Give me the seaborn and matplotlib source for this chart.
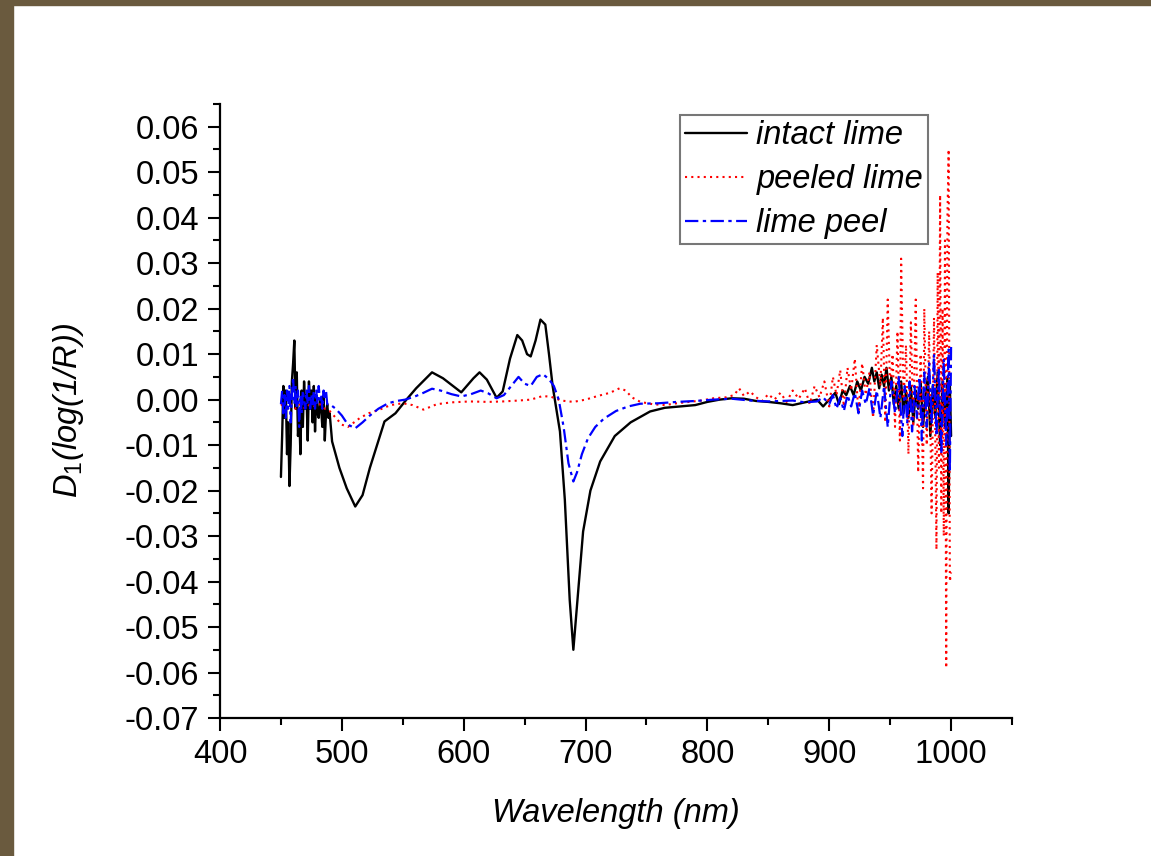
import pandas as pd
import matplotlib.pyplot as plt
import matplotlib.patches as mpatches
from matplotlib.ticker import MultipleLocator, FormatStrFormatter
import seaborn as sns

# intact lime (black, solid)
wl_intact = [450, 451, 452, 453, 454, 455, 456, 457, 458, 459, 460, 461, 462, 463, 464, 465,
             466, 467, 468, 469, 470, 471, 472, 473, 474, 475, 476, 477, 478, 479, 480, 481,
             482, 483, 484, 485, 486, 487, 488, 489, 490, 492, 498, 504, 511, 517, 523, 529,
             535, 544, 553, 561, 574, 583, 598, 608, 613, 619, 627, 632, 638, 644, 648, 652,
             655, 659, 663, 667, 670, 673, 676, 679, 683, 687, 690, 694, 698, 704, 712, 724,
             737, 753, 765, 778, 790, 800, 810, 820, 830, 840, 850, 860, 870, 880, 890, 895,
             900, 905, 908, 911, 914, 917, 920, 923, 926, 929, 932, 935, 937, 939, 941, 943,
             945, 947, 949, 951, 953, 955, 957, 959, 961, 963, 965, 967, 969, 971, 973, 975,
             977, 979, 981, 983, 985, 987, 989, 991, 993, 995, 997, 998, 999, 1000]
d1_intact = [-0.017, -0.008, 0.003, -0.004, 0.002, -0.012, -0.005, -0.019, -0.010, 0.004,
             0.008, 0.013, -0.002, 0.006, -0.008, -0.003, -0.012, 0.002, -0.006, 0.004,
             -0.002, 0.001, -0.009, 0.004, -0.002, 0.002, -0.005, 0.003, -0.007, 0.001,
             -0.003, -0.004, 0.000, -0.002, -0.006, 0.001, -0.009, -0.003, -0.001, -0.004,
             -0.003, -0.0092, -0.015, -0.0195, -0.0235, -0.021, -0.015, -0.0099, -0.0048, -0.003,
             0.000, 0.0025, 0.006, 0.0047, 0.0016, 0.0047, 0.006, 0.0044, 0.0004, 0.0018,
             0.009, 0.0142, 0.013, 0.010, 0.0095, 0.013, 0.0176, 0.0165, 0.010, 0.003,
             -0.002, -0.007, -0.022, -0.044, -0.055, -0.042, -0.029, -0.020, -0.0136, -0.008,
             -0.005, -0.0026, -0.0018, -0.0015, -0.0012, -0.0005, 0.000, 0.0003, 0.0002, -0.0003,
             -0.0005, -0.0008, -0.0012, -0.0006, 0.000, -0.0015, 0.000, 0.0015, -0.001, 0.002,
             0.001, 0.003, 0.001, 0.004, 0.002, 0.005, 0.0035, 0.007, 0.004, 0.006,
             0.0025, 0.0055, 0.003, 0.007, 0.002, 0.005, -0.001, 0.003, -0.002, 0.004,
             -0.003, 0.002, -0.004, 0.003, -0.005, 0.002, -0.002, 0.004, -0.006, 0.001,
             0.005, -0.008, 0.003, -0.004, 0.006, -0.010, 0.004, -0.006, 0.005, -0.025,
             0.003, -0.008]

# peeled lime (red, dotted)
wl_peeled = [450, 455, 458, 462, 466, 470, 474, 478, 482, 486, 490, 495, 500, 505, 510, 515,
             522, 531, 540, 550, 558, 567, 578, 590, 605, 620, 632, 645, 655, 665, 672, 680,
             690, 700, 710, 720, 728, 733, 738, 745, 755, 765, 775, 785, 795, 805, 815, 822,
             826, 830, 835, 840, 845, 850, 855, 860, 865, 870, 875, 880, 884, 888, 892, 896,
             900, 903, 906, 909, 912, 915, 918, 921, 924, 927, 930, 933, 936, 939, 942, 944,
             946, 948, 950, 952, 954, 956, 958, 959, 961, 963, 965, 967, 969, 971, 973, 975,
             977, 978, 980, 982, 984, 986, 988, 989, 990, 991, 992, 993, 994, 995, 996, 997,
             998, 999, 1000]
d1_peeled = [-0.001, -0.002, -0.001, -0.002, -0.001, -0.002, -0.001, -0.0015, -0.001, -0.002,
             -0.0025, -0.004, -0.0055, -0.006, -0.005, -0.004, -0.003, -0.0022, -0.0012, -0.0008,
             -0.0012, -0.0022, -0.001, -0.0006, -0.0004, -0.0005, -0.0004, -0.0002, 0.000, 0.0008,
             0.0006, -0.0002, -0.0005, 0.000, 0.0008, 0.0015, 0.0025, 0.002, 0.0005, -0.0005,
             -0.001, -0.0012, -0.0008, -0.0005, -0.0002, 0.0003, 0.0005, 0.001, 0.0025, 0.0008,
             0.0018, 0.0005, -0.0003, 0.0012, 0.000, 0.0015, -0.0005, 0.002, 0.0002, 0.0025,
             -0.001, 0.003, 0.0005, 0.004, -0.0015, 0.005, 0.001, 0.0065, -0.0015, 0.007,
             0.002, 0.009, -0.003, 0.008, 0.001, 0.006, -0.004, 0.012, 0.003, 0.018,
             -0.005, 0.022, 0.002, 0.010, -0.006, 0.015, -0.009, 0.031, 0.000, 0.012,
             -0.012, 0.017, -0.006, 0.022, -0.016, 0.010, -0.0195, 0.020, -0.010, 0.015,
             -0.025, 0.018, -0.033, 0.028, -0.015, 0.045, -0.025, 0.020, -0.030, 0.035,
             -0.059, 0.040, 0.055, -0.040, -0.038]

# lime peel (blue, dash-dot)
wl_peel = [450, 451, 452, 453, 454, 455, 456, 457, 458, 459, 460, 461, 462, 463, 464, 465,
           466, 467, 468, 469, 470, 471, 472, 473, 474, 475, 476, 477, 478, 479, 480, 481,
           482, 483, 484, 485, 486, 487, 488, 490, 495, 500, 505, 511, 517, 523, 530, 538,
           545, 552, 560, 567, 574, 581, 590, 598, 606, 614, 620, 627, 633, 639, 645, 650,
           655, 660, 665, 670, 674, 678, 682, 686, 690, 693, 697, 702, 708, 715, 725, 735,
           745, 760, 775, 790, 805, 820, 835, 850, 860, 870, 880, 890, 895, 900, 903, 906,
           909, 912, 915, 918, 921, 924, 927, 930, 933, 936, 939, 942, 945, 948, 951, 954,
           957, 960, 962, 964, 966, 968, 970, 972, 974, 976, 978, 980, 982, 984, 986, 988,
           990, 992, 994, 996, 998, 999, 1000]
d1_peel = [-0.001, 0.002, -0.003, 0.001, -0.004, 0.002, -0.002, 0.003, -0.005, 0.001,
           0.005, -0.001, 0.003, -0.002, 0.002, -0.006, 0.001, -0.003, 0.002, 0.000,
           -0.002, 0.002, -0.001, 0.003, -0.002, 0.001, -0.001, 0.002, -0.002, 0.002,
           -0.001, 0.003, 0.000, 0.001, -0.002, 0.002, 0.000, 0.002, -0.001, -0.001,
           -0.002, -0.0035, -0.0055, -0.0063, -0.005, -0.0035, -0.002, -0.0008, -0.0003, 0.000,
           0.0007, 0.0015, 0.0024, 0.002, 0.0012, 0.0007, 0.0012, 0.002, 0.0014, 0.0003,
           0.001, 0.003, 0.005, 0.0035, 0.003, 0.005, 0.0056, 0.0045, 0.003, 0.000,
           -0.006, -0.014, -0.018, -0.016, -0.012, -0.0085, -0.006, -0.0042, -0.0025, -0.0015,
           -0.0009, -0.0008, -0.0005, -0.0003, 0.000, 0.0002, -0.0002, -0.0004, -0.0003, -0.0002,
           -0.0006, -0.0004, 0.0005, -0.001, 0.001, -0.002, 0.0005, -0.0025, 0.001, -0.0015,
           0.0015, -0.003, 0.002, -0.001, 0.0025, -0.0035, 0.002, -0.004, 0.003, -0.006,
           0.004, -0.003, 0.005, -0.008, 0.003, -0.005, 0.004, -0.007, 0.003, -0.004,
           0.005, -0.009, 0.006, -0.006, 0.008, -0.005, 0.010, -0.008, 0.007, -0.012,
           0.009, -0.010, 0.011, -0.016, 0.0116]

sns.set_style("ticks")
plt.rcParams['font.family'] = ['Liberation Sans', 'DejaVu Sans']
plt.rcParams['mathtext.fontset'] = 'custom'
plt.rcParams['mathtext.rm'] = 'Liberation Sans'
plt.rcParams['mathtext.it'] = 'Liberation Sans:italic'
plt.rcParams['text.color'] = 'black'
plt.rcParams['axes.labelcolor'] = 'black'
plt.rcParams['xtick.color'] = 'black'
plt.rcParams['ytick.color'] = 'black'
plt.rcParams['axes.edgecolor'] = 'black'

fig = plt.figure(figsize=(11.51, 8.56), dpi=100, facecolor='white')
ax = fig.add_axes([220 / 1151, 1 - 718 / 856, 792 / 1151, 614 / 856])

# brown frame strips of the slide
fig.patches.append(mpatches.Rectangle((0, 0), 13 / 1151, 1, transform=fig.transFigure,
                                      color='#6a5a3e', zorder=0))
fig.patches.append(mpatches.Rectangle((0, 1 - 5 / 856), 1, 5 / 856, transform=fig.transFigure,
                                      color='#6a5a3e', zorder=0))

df_i = pd.DataFrame({'wl': wl_intact, 'd1': d1_intact})
df_p = pd.DataFrame({'wl': wl_peeled, 'd1': d1_peeled})
df_l = pd.DataFrame({'wl': wl_peel, 'd1': d1_peel})

sns.lineplot(data=df_i, x='wl', y='d1', ax=ax, color='black', linewidth=1.7,
             estimator=None, label='intact lime')
sns.lineplot(data=df_p, x='wl', y='d1', ax=ax, color='red', linewidth=1.5,
             linestyle=(0, (1, 2)), estimator=None, label='peeled lime')
sns.lineplot(data=df_l, x='wl', y='d1', ax=ax, color='blue', linewidth=1.6,
             linestyle=(0, (6, 2, 1.5, 2)), estimator=None, label='lime peel')

ax.set_xlim(400, 1050)
ax.set_ylim(-0.07, 0.065)
ax.xaxis.set_major_locator(MultipleLocator(100))
ax.xaxis.set_minor_locator(MultipleLocator(50))
ax.yaxis.set_major_locator(MultipleLocator(0.01))
ax.yaxis.set_minor_locator(MultipleLocator(0.005))
ax.yaxis.set_major_formatter(FormatStrFormatter('%.2f'))
ax.tick_params(which='major', direction='out', length=9, width=1.5, labelsize=23.5, pad=6)
ax.tick_params(which='minor', direction='out', length=5, width=1.5)
sns.despine(ax=ax)
for s in ['left', 'bottom']:
    ax.spines[s].set_linewidth(1.6)

ax.set_xlabel('Wavelength (nm)', fontsize=23.5, fontstyle='italic', labelpad=20)
ax.set_ylabel(r'$D_{\mathit{1}}$(log(1/R))', fontsize=23.5, fontstyle='italic', labelpad=28)

leg = ax.legend(loc='upper right', bbox_to_anchor=(0.894, 0.982), fontsize=23.5,
                frameon=True, fancybox=False, handlelength=1.9, handletextpad=0.3,
                labelspacing=0.4, borderpad=0.15, borderaxespad=0)
leg.get_frame().set_edgecolor('#555555')
leg.get_frame().set_linewidth(1.5)
for t in leg.get_texts():
    t.set_fontstyle('italic')

fig.savefig('out.png', dpi=100, facecolor='white')
